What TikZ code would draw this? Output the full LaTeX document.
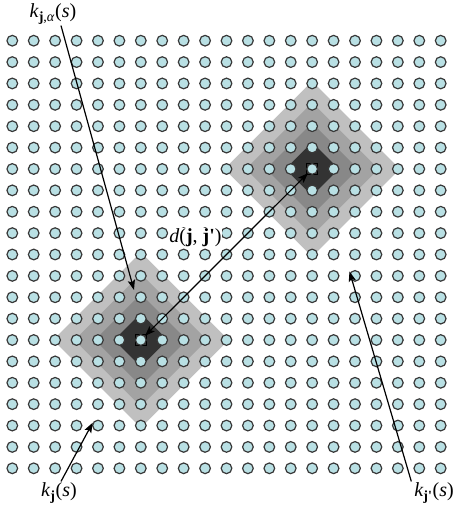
\documentclass[tikz,border=0pt]{standalone}
\usepackage{fontspec}
\setmainfont{Liberation Serif}
\usetikzlibrary{arrows.meta}
\definecolor{dot}{HTML}{B9E0E4}
\definecolor{dotline}{HTML}{383838}
\definecolor{gA}{HTML}{C0C0C0}
\definecolor{gB}{HTML}{A3A3A3}
\definecolor{gC}{HTML}{888888}
\definecolor{gD}{HTML}{333333}
\begin{document}
\begin{tikzpicture}[x=0.75pt,y=-0.75pt,
  dotnode/.style={circle,draw=dotline,fill=dot,line width=0.9pt,minimum size=8pt,inner sep=0pt},
  centremark/.style={rectangle,draw=black,line width=0.9pt,minimum size=8pt,inner sep=0pt},
  lab/.style={font=\fontsize{15}{17}\selectfont,inner sep=1pt},
  arr/.style={line width=0.9pt,-{Stealth[length=7.5pt,width=5.5pt,inset=1.5pt]}},
  dblarr/.style={line width=0.9pt,{Stealth[length=7.5pt,width=5.5pt,inset=1.5pt]}-{Stealth[length=7.5pt,width=5.5pt,inset=1.5pt]}}]
\useasboundingbox (0,0) rectangle (453,512);
% centres of the two neighbourhoods
\coordinate (p1) at ({12.3+6*21.42},{40.7+14*21.38});
\coordinate (p2) at ({12.3+14*21.42},{40.7+6*21.38});
% graded diamonds
\foreach \pp in {p1,p2}{
  \foreach \rr/\cc in {4.1/gA,3.1/gB,2.15/gC,1.25/gD}{
    \fill[\cc,shift={(\pp)}] ({-\rr*21.4},0) -- (0,{-\rr*21.4}) -- ({\rr*21.4},0) -- (0,{\rr*21.4}) -- cycle;
  }
}
% centre marks
\node[centremark] (m1) at (p1) {};
\node[centremark] (m2) at (p2) {};
% lattice
\foreach \i in {0,...,20}{
  \foreach \j in {0,...,20}{
    \node[dotnode] (c-\i-\j) at ({12.3+21.42*\i},{40.7+21.38*\j}) {};
  }
}
% labels
\node[lab] (ka) at (53,14) {\textit{k}\textsubscript{\textbf{j},\textit{α}}(\textit{s})};
\node[lab] (kj) at (59,493) {\textit{k}\textsubscript{\textbf{j}}(\textit{s})};
\node[lab] (kjp) at (434,493) {\textit{k}\textsubscript{\textbf{j\textquotesingle}}(\textit{s})};
% arrow targets
\coordinate (t1) at (134,290);
\coordinate (t2) at (92.7,422.7);
\coordinate (t3) at (349.5,271.5);
\draw[arr] ([xshift=6pt]ka.south) -- (t1);
\draw[arr] ([xshift=1.5pt]kj.north) -- (t2);
\draw[arr] ([xshift=-1pt]kjp.north west) -- (t3);
\draw[dblarr] (c-6-14) -- (c-14-6);
\node[lab,fill=white,inner sep=0.5pt] (dl) at (195.5,238) {\textit{d}(\textbf{j}, \textbf{j\textquotesingle})};
\end{tikzpicture}
\end{document}
